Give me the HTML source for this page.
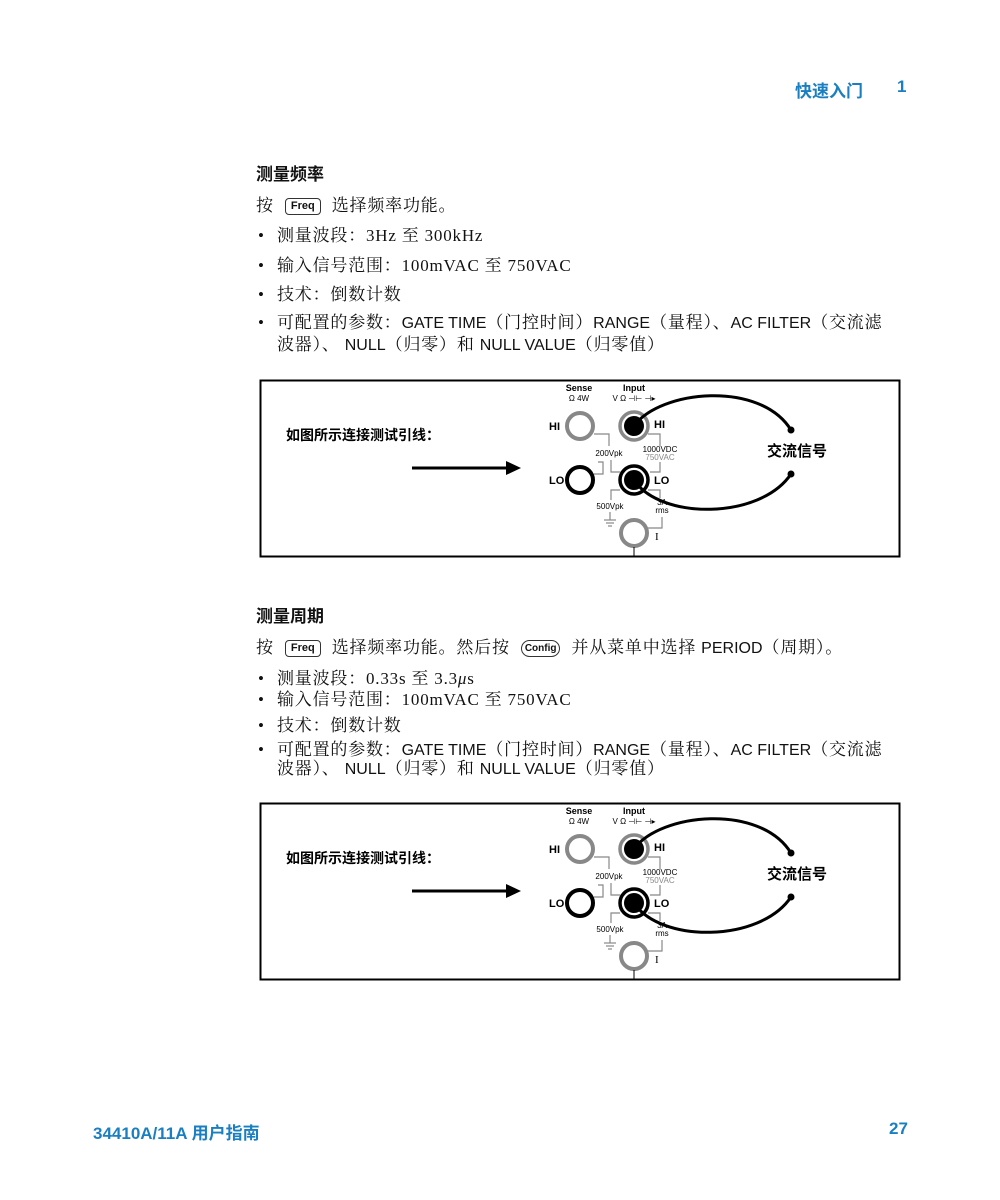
<!DOCTYPE html>
<html><head><meta charset="utf-8"><style>
body{margin:0;background:#fff;}
.p{position:relative;width:1000px;height:1200px;font-family:"Liberation Serif","Noto Serif CJK SC",serif;color:#111;}
.t{position:absolute;white-space:nowrap;font-size:17px;line-height:20px;letter-spacing:0.8px;}
.s{font-family:"Liberation Sans","Noto Sans CJK SC",sans-serif;font-size:16px;letter-spacing:0;}
.h{position:absolute;font-family:"Liberation Sans","Noto Sans CJK SC",sans-serif;font-weight:bold;font-size:17px;}
.blue{color:#1a7fc1;font-family:"Liberation Sans","Noto Sans CJK SC",sans-serif;font-weight:bold;font-size:17px;position:absolute;}
.key{display:inline-block;border:1.5px solid #333;border-radius:4px;font-family:"Liberation Sans",sans-serif;font-weight:bold;font-size:11px;padding:0 5px;line-height:15px;vertical-align:2px;margin:0 6px;letter-spacing:0;}
.b{position:absolute;left:258px;font-size:17px;}
svg{position:absolute;left:0;}
</style></head><body><div class="p">
<div class="blue" style="left:795px;top:77px">快速入门</div>
<div class="blue" style="left:897px;top:77px">1</div>

<div class="h" style="left:256px;top:160px">测量频率</div>
<div class="t" style="left:256px;top:196px">按 <span class="key">Freq</span> 选择频率功能。</div>
<div class="b t" style="top:226px">•</div><div class="t" style="left:277px;top:226px">测量波段：3Hz 至 300kHz</div>
<div class="b t" style="top:256px">•</div><div class="t" style="left:277px;top:256px">输入信号范围：100mVAC 至 750VAC</div>
<div class="b t" style="top:285px">•</div><div class="t" style="left:277px;top:285px">技术：倒数计数</div>
<div class="b t" style="top:313px">•</div><div class="t" style="left:277px;top:313px">可配置的参数：<span class="s">GATE TIME</span>（门控时间）<span class="s">RANGE</span>（量程）、<span class="s">AC FILTER</span>（交流滤</div>
<div class="t" style="left:277px;top:335px">波器）、 <span class="s">NULL</span>（归零）和 <span class="s">NULL VALUE</span>（归零值）</div>

<div class="h" style="left:256px;top:602px">测量周期</div>
<div class="t" style="left:256px;top:638px">按 <span class="key">Freq</span> 选择频率功能。然后按 <span class="key" style="border-radius:9px;font-size:10px;padding:0 3px">Config</span> 并从菜单中选择 <span class="s">PERIOD</span>（周期）。</div>
<div class="b t" style="top:669px">•</div><div class="t" style="left:277px;top:669px">测量波段：0.33s 至 3.3<i>μ</i>s</div>
<div class="b t" style="top:690px">•</div><div class="t" style="left:277px;top:690px">输入信号范围：100mVAC 至 750VAC</div>
<div class="b t" style="top:716px">•</div><div class="t" style="left:277px;top:716px">技术：倒数计数</div>
<div class="b t" style="top:740px">•</div><div class="t" style="left:277px;top:740px">可配置的参数：<span class="s">GATE TIME</span>（门控时间）<span class="s">RANGE</span>（量程）、<span class="s">AC FILTER</span>（交流滤</div>
<div class="t" style="left:277px;top:759px">波器）、 <span class="s">NULL</span>（归零）和 <span class="s">NULL VALUE</span>（归零值）</div>

<svg width="1000" height="1200" style="top:0" font-family="Liberation Sans, Noto Sans CJK SC, sans-serif">
<defs>
<g id="d">
<rect x="260.5" y="380.5" width="639" height="176" fill="none" stroke="#000" stroke-width="2"/>
<text x="286" y="440" font-size="14" font-weight="bold">如图所示连接测试引线：</text>
<line x1="412" y1="468" x2="508" y2="468" stroke="#000" stroke-width="3"/>
<polygon points="506,461 521,468 506,475" fill="#000"/>
<text x="579" y="391" font-size="9" font-weight="bold" text-anchor="middle">Sense</text>
<text x="579" y="401" font-size="8" text-anchor="middle">Ω 4W</text>
<text x="634" y="391" font-size="9" font-weight="bold" text-anchor="middle">Input</text>
<text x="634" y="401" font-size="8" text-anchor="middle">V Ω ⊣⊢ ⊣▸</text>
<g fill="none" stroke="#888" stroke-width="1.2">
<polyline points="594,434 609,434 609,446"/>
<polyline points="594,474 603,474 603,462 598,462"/>
<polyline points="611,460 611,472 620,472"/>
<polyline points="648,434 660,434 660,446"/>
<polyline points="660,462 660,472 650,472"/>
<polyline points="620,490 611,490 611,500"/>
<polyline points="648,490 660,490 660,498"/>
<polyline points="648,528 662,528 662,517"/>
<line x1="610" y1="512" x2="610" y2="520"/>
<line x1="604" y1="520" x2="616" y2="520"/><line x1="606" y1="523" x2="614" y2="523"/><line x1="608" y1="526" x2="612" y2="526"/>
</g>
<circle cx="580" cy="426" r="13" fill="#fff" stroke="#888" stroke-width="4"/>
<circle cx="580" cy="480" r="13" fill="#fff" stroke="#000" stroke-width="4"/>
<circle cx="634" cy="426" r="14" fill="#fff" stroke="#888" stroke-width="3.5"/>
<circle cx="634" cy="426" r="10" fill="#000"/>
<circle cx="634" cy="480" r="14" fill="#fff" stroke="#000" stroke-width="3.5"/>
<circle cx="634" cy="480" r="10" fill="#000"/>
<circle cx="634" cy="533" r="13" fill="#fff" stroke="#888" stroke-width="4"/>
<line x1="634" y1="547" x2="634" y2="556" stroke="#000" stroke-width="1"/>
<text x="549" y="430" font-size="11" font-weight="bold">HI</text>
<text x="549" y="484" font-size="11" font-weight="bold">LO</text>
<text x="654" y="428" font-size="11" font-weight="bold">HI</text>
<text x="654" y="484" font-size="11" font-weight="bold">LO</text>
<text x="655" y="540" font-size="11" font-family="Liberation Serif">I</text>
<text x="609" y="456" font-size="8" text-anchor="middle">200Vpk</text>
<text x="660" y="452" font-size="8" text-anchor="middle">1000VDC</text>
<text x="660" y="460" font-size="8" text-anchor="middle" fill="#888">750VAC</text>
<text x="610" y="509" font-size="8" text-anchor="middle">500Vpk</text>
<text x="662" y="505" font-size="8" text-anchor="middle">3A</text>
<text x="662" y="513" font-size="8" text-anchor="middle">rms</text>
<path d="M634,426 C660,390 760,380 791,430" fill="none" stroke="#000" stroke-width="3"/>
<path d="M634,480 C660,520 760,520 791,474" fill="none" stroke="#000" stroke-width="3"/>
<circle cx="791" cy="430" r="3.5" fill="#000"/>
<circle cx="791" cy="474" r="3.5" fill="#000"/>
<text x="767" y="456" font-size="15" font-weight="bold">交流信号</text>
</g>
</defs>
<use href="#d"/>
<use href="#d" transform="translate(0,423)"/>
</svg>

<div class="blue" style="left:93px;top:1119px">34410A/11A 用户指南</div>
<div class="blue" style="left:889px;top:1119px">27</div>
</div></body></html>
